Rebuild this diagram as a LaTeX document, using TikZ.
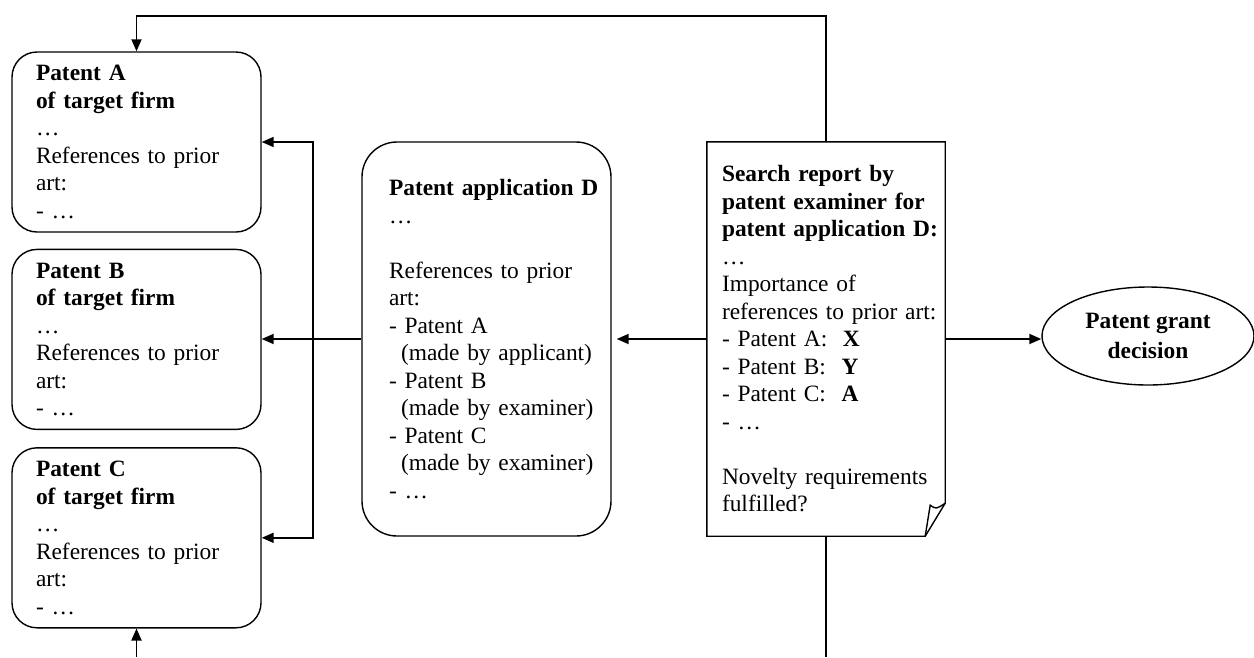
\documentclass[tikz,border=0pt]{standalone}
\usepackage{fontspec}
\setmainfont{Liberation Serif}
\usetikzlibrary{arrows.meta,positioning,shapes.geometric}
\hyphenpenalty=10000
\exhyphenpenalty=10000
\tikzset{
    %Define standard arrow tip
    >={Triangle[length=12pt,width=10pt]},
    %Define style for boxes
    patentbox/.style={
           rectangle,
           rounded corners=25pt,
           draw=black, line width=1.4pt,
           minimum width=249pt,
           minimum height=180pt,
           text width=201pt,
           inner xsep=24pt,
           align=left,
           font=\fontsize{23.4}{27.5}\selectfont,
           },
    appbox/.style={
           rectangle,
           rounded corners=35pt,
           draw=black, line width=1.4pt,
           minimum width=249pt,
           minimum height=394pt,
           text width=195pt,
           inner xsep=27pt,
           align=left,
           font=\fontsize{23.4}{27.5}\selectfont,
           },
    reportbox/.style={
           rectangle,
           minimum width=238pt,
           minimum height=394pt,
           text width=208pt,
           inner xsep=15pt,
           align=left,
           font=\fontsize{23.4}{27.5}\selectfont,
           },
    decision/.style={
           ellipse,
           draw=black, line width=1.4pt,
           minimum width=212pt,
           minimum height=98pt,
           inner sep=0pt,
           align=center,
           font=\fontsize{23.4}{30}\selectfont\bfseries,
           },
    % Define arrow style
    pil/.style={
           ->,
           line width=1.8pt,
           },
    wire/.style={
           line width=1.8pt,
           }
}

\begin{document}
\begin{tikzpicture}[x=1pt,y=-1pt,node distance=16pt]
\useasboundingbox (0,0) rectangle (1254,657);
\node[patentbox] (patA) at (136.5,142) {\textbf{Patent A}\\\textbf{of target firm}\\…\\References to prior\\art:\\- …};
\node[patentbox, below=of patA] (patB) {\textbf{Patent B}\\\textbf{of target firm}\\…\\References to prior\\art:\\- …};
\node[patentbox, below=17pt of patB] (patC) {\textbf{Patent C}\\\textbf{of target firm}\\…\\References to prior\\art:\\- …};
\node[appbox] (appD) at (486.5,339) {\textbf{Patent~application~D}\\…\\\mbox{}\\References to prior\\art:\\- Patent A\\\hspace*{12pt}(made~by~applicant)\\- Patent B\\\hspace*{12pt}(made~by~examiner)\\- Patent C\\\hspace*{12pt}(made~by~examiner)\\- …};
\node[reportbox] (report) at (826,339) {\textbf{Search report by}\\\textbf{patent~examiner~for}\\\textbf{patent~application~D:}\\…\\Importance of\\references~to~prior~art:\\- Patent A:\ \ \textbf{X}\\- Patent B:\ \ \textbf{Y}\\- Patent C:\ \ \textbf{A}\\- …\\\mbox{}\\Novelty~requirements\\fulfilled?};
\node[decision] (grant) at (1148,336) {Patent grant\\decision};
% search report sheet with folded corner
\draw[line width=1.4pt] (report.south west) -- (report.north west) -- (report.north east)
    -- ([yshift=33pt]report.south east) -- ([xshift=-20pt]report.south east) -- cycle;
\draw[line width=1.4pt] ([xshift=-20pt]report.south east) -- ([xshift=-15pt,yshift=31pt]report.south east)
    .. controls ([xshift=-9pt,yshift=27pt]report.south east) .. ([yshift=33pt]report.south east);
\coordinate (outR) at (826,657);
\coordinate (inC) at (136.5,657);
\draw[pil] (report.north) -- ++(0,-126) -| (patA.north);
\draw[pil, shorten >=5pt] (report.west) -- (appD.east);
\draw[pil] (report.east) -- (report.east -| grant.west);
\draw[pil] (appD.west) -- (appD.west -| patB.east);
\draw[pil, <->] (patA.east) -- ++(51,0) |- (patC.east);
\draw[wire] (report.south) -- (outR);
\draw[pil] (inC) -- (patC.south);
\end{tikzpicture}
\end{document}
